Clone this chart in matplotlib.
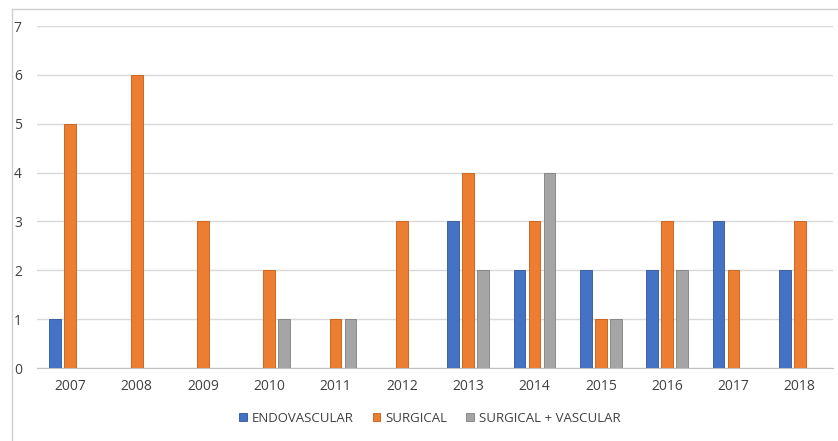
import numpy as np
import matplotlib.pyplot as plt
from matplotlib.lines import Line2D

years = ['2007', '2008', '2009', '2010', '2011', '2012',
         '2013', '2014', '2015', '2016', '2017', '2018']
endovascular = [1, 0, 0, 0, 0, 0, 3, 2, 2, 2, 3, 2]
surgical = [5, 6, 3, 2, 1, 3, 4, 3, 1, 3, 2, 3]
surgical_vascular = [0, 0, 0, 1, 1, 0, 2, 4, 1, 2, 0, 0]

series = [
    ('ENDOVASCULAR', endovascular, '#4472C4', '#2F5597'),
    ('SURGICAL', surgical, '#ED7D31', '#C55A11'),
    ('SURGICAL + VASCULAR', surgical_vascular, '#A5A5A5', '#7F7F7F'),
]

plt.rcParams['font.family'] = ['Open Sans', 'DejaVu Sans']

fig = plt.figure(figsize=(8.38, 4.41), dpi=100)
ax = fig.add_axes([0.0442, 0.1655, 0.9498, 0.7755])

x = np.arange(len(years))
ancho = 0.18
paso = 0.226
handles = []
for i, (nombre, valores, color, borde) in enumerate(series):
    b = ax.bar(x + (i - 1) * paso, valores, width=ancho, color=color,
               edgecolor=borde, linewidth=0.6, label=nombre, zorder=3)
    handles.append(b)

ax.set_xlim(-0.5, len(years) - 0.5)
ax.set_ylim(0, 7)
ax.set_yticks(range(0, 8))
ax.set_xticks(x)
ax.set_xticklabels(years)
ax.tick_params(axis='both', length=0, labelsize=10, labelcolor='#404040')
ax.tick_params(axis='y', pad=11)
ax.tick_params(axis='x', pad=8)
ax.grid(axis='y', color='#d9d9d9', linewidth=1, zorder=0)
for lado in ['top', 'right', 'left']:
    ax.spines[lado].set_visible(False)
ax.spines['bottom'].set_color('#bfbfbf')

# marco exterior del gráfico
fig.add_artist(Line2D([12 / 838, 12 / 838], [0, 1 - 9 / 441],
                      transform=fig.transFigure, color='#d0d0d0', linewidth=1))
fig.add_artist(Line2D([12 / 838, 1], [1 - 9 / 441, 1 - 9 / 441],
                      transform=fig.transFigure, color='#d0d0d0', linewidth=1))

fig.legend(handles=handles, loc='center', bbox_to_anchor=(430 / 838, 1 - 418 / 441),
           ncol=3, frameon=False, fontsize=9.5, handlelength=0.6,
           handleheight=0.6, handletextpad=0.4, columnspacing=1.4,
           labelcolor='#404040')

fig.savefig('out.png', dpi=100)
